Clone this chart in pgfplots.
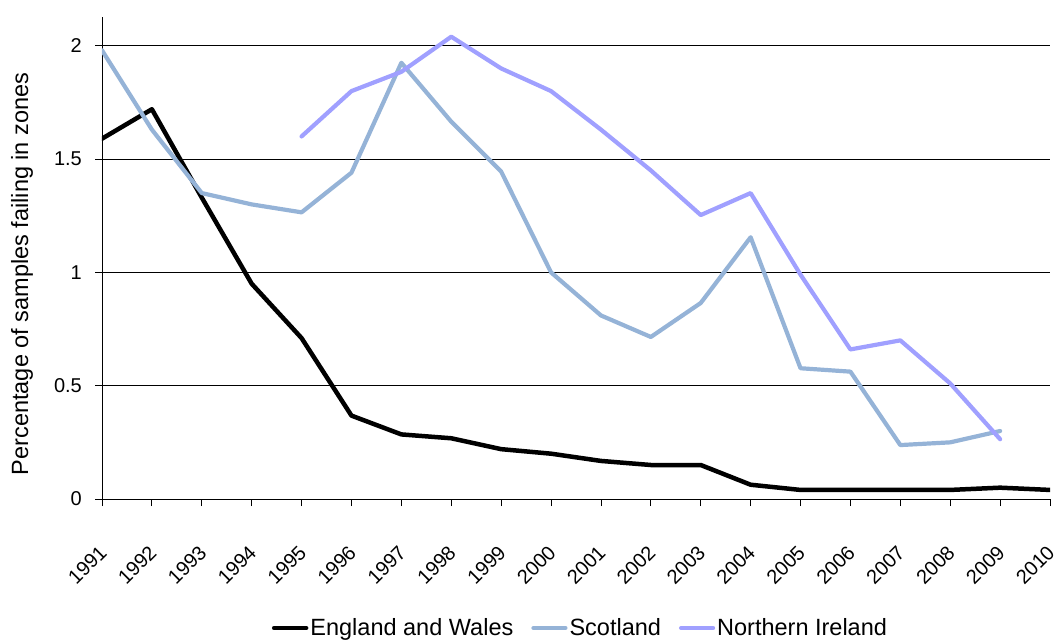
\documentclass[border=0pt]{standalone}
\usepackage{fontspec}
\setmainfont{Liberation Sans}
\usepackage{pgfplots}
\pgfplotsset{compat=1.18}

\definecolor{scotblue}{RGB}{149,179,215}
\definecolor{nililac}{RGB}{160,160,255}

\begin{document}
\begin{tikzpicture}
\path[use as bounding box] (-102bp,-141bp) rectangle (953bp,499bp);
\begin{axis}[
  at={(0,0)}, anchor=south west,
  scale only axis, width=948bp, height=482bp,
  xmin=1991, xmax=2010, ymin=0, ymax=2.127,
  axis x line=bottom, axis y line=left,
  axis line style={-, line width=0.8bp, black},
  xtick={1991,...,2010}, ytick={0,0.5,1,1.5,2},
  tick align=outside, major tick length=7bp,
  tick style={black, line width=0.8bp},
  ymajorgrids, grid style={black, line width=0.8bp},
  /pgf/number format/assume math mode=true,
  /pgf/number format/1000 sep={},
  ticklabel style={font=\fontsize{20bp}{24bp}\selectfont},
  xticklabel style={xshift=-4bp, yshift=-38bp, rotate=45, anchor=north east, inner sep=0pt},
  yticklabel style={anchor=east, inner sep=0pt, xshift=-13bp},
  ylabel={Percentage of samples failing in zones},
  every axis y label/.style={at={(axis description cs:-0.0844,0.467)}, rotate=90, anchor=center,
    font=\fontsize{23.5bp}{28bp}\selectfont},
  legend columns=3,
  legend style={at={(axis description cs:0.5047,-0.2676)}, anchor=center, draw=none, fill=none,
    font=\fontsize{23.5bp}{28bp}\selectfont,
    /tikz/every even column/.append style={column sep=16bp}},
  legend image code/.code={\draw[#1] (0bp,0bp) -- (32bp,0bp);},
  every axis plot/.append style={line join=round, line cap=round},
]
\addplot[black, line width=4.5bp] coordinates {
  (1991,1.59) (1992,1.72) (1993,1.33) (1994,0.95) (1995,0.71)
  (1996,0.368) (1997,0.285) (1998,0.268) (1999,0.22) (2000,0.20)
  (2001,0.168) (2002,0.15) (2003,0.15) (2004,0.063) (2005,0.04)
  (2006,0.04) (2007,0.04) (2008,0.04) (2009,0.05) (2010,0.04)};
\addlegendentry{England and Wales}
\addplot[scotblue, line width=4.2bp] coordinates {
  (1991,1.98) (1992,1.63) (1993,1.35) (1994,1.30) (1995,1.265)
  (1996,1.44) (1997,1.925) (1998,1.665) (1999,1.445) (2000,1.00)
  (2001,0.81) (2002,0.715) (2003,0.865) (2004,1.155) (2005,0.577)
  (2006,0.562) (2007,0.238) (2008,0.25) (2009,0.30)};
\addlegendentry{Scotland}
\addplot[nililac, line width=4.2bp] coordinates {
  (1995,1.60) (1996,1.80) (1997,1.885) (1998,2.04) (1999,1.90)
  (2000,1.80) (2001,1.63) (2002,1.45) (2003,1.253) (2004,1.35)
  (2005,0.99) (2006,0.66) (2007,0.70) (2008,0.51) (2009,0.264)};
\addlegendentry{Northern Ireland}
\end{axis}
\end{tikzpicture}
\end{document}
